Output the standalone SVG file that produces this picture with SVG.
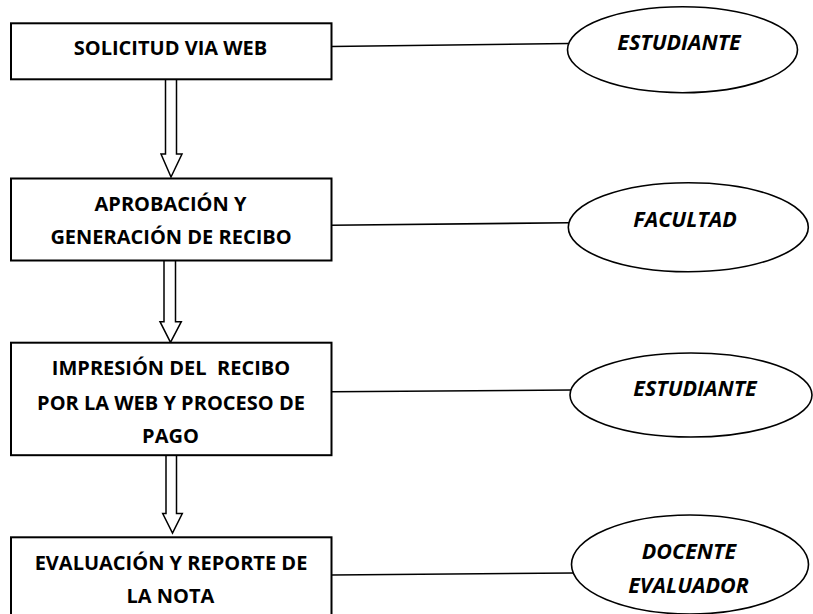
<svg xmlns="http://www.w3.org/2000/svg" width="813" height="614" viewBox="0 0 813 614">
<style>
.box{fill:#fff;stroke:#000;stroke-width:2}
.ell{fill:#fff;stroke:#000;stroke-width:1.6}
.t{font-family:"Open Sans","Liberation Sans",sans-serif;font-weight:bold;font-size:20px;fill:#000;text-anchor:middle}
.ti{font-family:"Open Sans","Liberation Sans",sans-serif;font-weight:bold;font-style:italic;font-size:21.5px;fill:#000;text-anchor:middle}
.ln{stroke:#000;stroke-width:1.6;fill:none}
.arr{fill:#fff;stroke:#000;stroke-width:1.5;stroke-linejoin:miter}
</style>
<rect width="813" height="614" fill="#fff"/>
<g id="connectors">
<line class="ln" x1="331" y1="46.5" x2="569" y2="43.5"/>
<line class="ln" x1="331" y1="225.3" x2="569" y2="222.7"/>
<line class="ln" x1="332" y1="391.7" x2="572" y2="390"/>
<line class="ln" x1="332" y1="575" x2="574" y2="573"/>
<path class="arr" d="M165.5,79 V154 H161 L171,177 L182,154 H176.5 V79"/>
<path class="arr" d="M164,261 V321.7 H160 L170.5,342.3 L181.3,321.7 H175.5 V261"/>
<path class="arr" d="M166,455 V513.5 H162.7 L172.5,533 L182.3,513.5 H176.5 V455"/>
</g>
<g id="n1">
<rect class="box" x="11" y="23.3" width="320.5" height="56"/>
<text class="t" x="170.5" y="55">SOLICITUD VIA WEB</text>
</g>
<g id="n2">
<rect class="box" x="11" y="178.5" width="320.5" height="82"/>
<text class="t" x="170.5" y="210.7">APROBACIÓN Y</text>
<text class="t" x="171" y="244.3">GENERACIÓN DE RECIBO</text>
</g>
<g id="n3">
<rect class="box" x="11" y="342.7" width="320.5" height="112.5"/>
<text class="t" x="171" y="375" xml:space="preserve">IMPRESIÓN DEL  RECIBO</text>
<text class="t" x="171" y="410">POR LA WEB Y PROCESO DE</text>
<text class="t" x="170.5" y="443.3">PAGO</text>
</g>
<g id="n4">
<rect class="box" x="11" y="537.3" width="320.5" height="90"/>
<text class="t" x="171" y="570">EVALUACIÓN Y REPORTE DE</text>
<text class="t" x="170.5" y="603.3">LA NOTA</text>
</g>
<g id="e1">
<ellipse class="ell" cx="682.5" cy="49.7" rx="115" ry="43"/>
<text class="ti" x="679" y="50">ESTUDIANTE</text>
</g>
<g id="e2">
<ellipse class="ell" cx="688.3" cy="227.2" rx="120" ry="44.5"/>
<text class="ti" x="685" y="226.5">FACULTAD</text>
</g>
<g id="e3">
<ellipse class="ell" cx="691" cy="395" rx="121" ry="42"/>
<text class="ti" x="695" y="396">ESTUDIANTE</text>
</g>
<g id="e4">
<ellipse class="ell" cx="690" cy="564.5" rx="118.5" ry="49.5"/>
<text class="ti" x="689" y="559.3">DOCENTE</text>
<text class="ti" x="688.5" y="593">EVALUADOR</text>
</g>
</svg>
